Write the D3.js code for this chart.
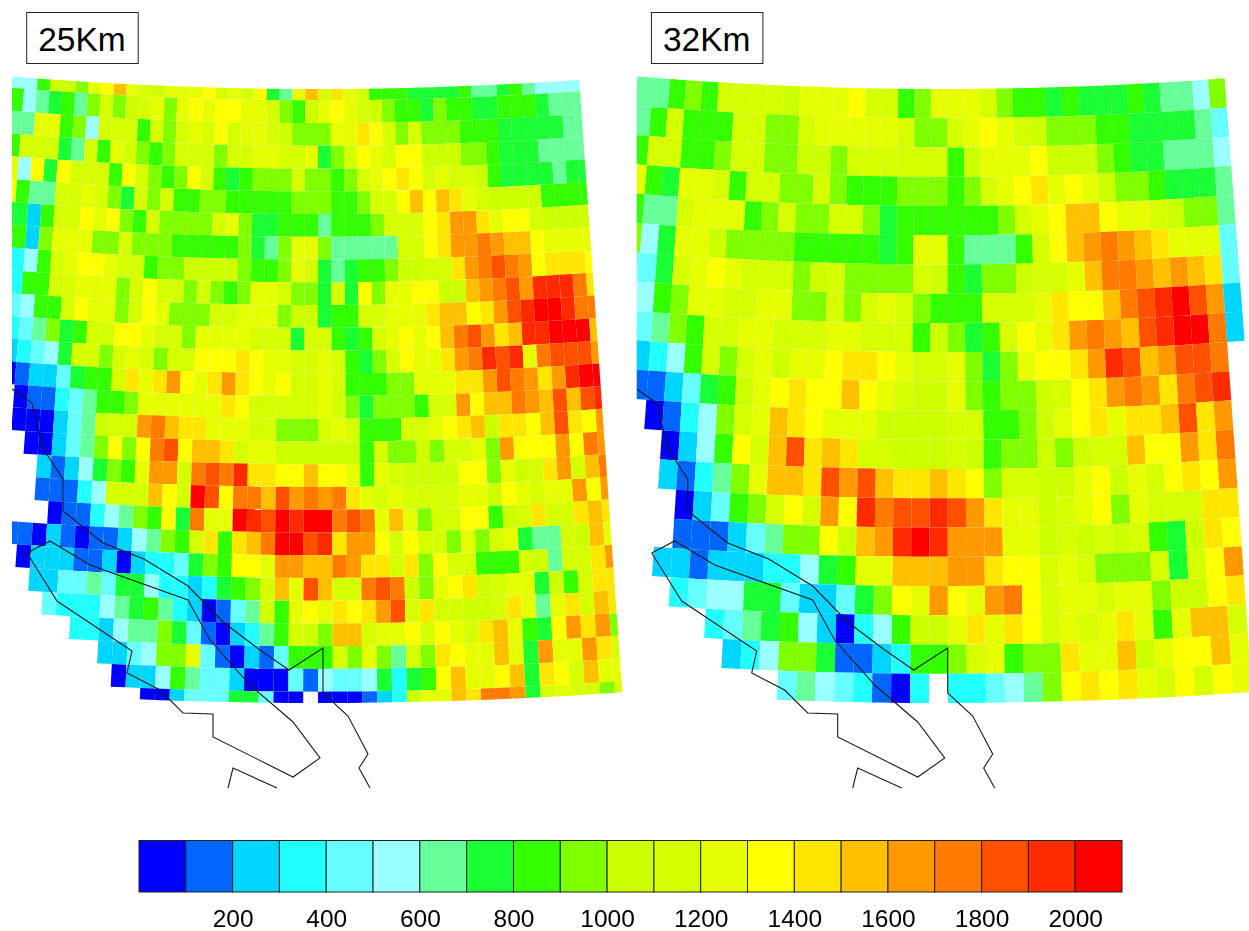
<!DOCTYPE html>
<html>
<head>
    <meta charset="utf-8">
    <script src="https://cdnjs.cloudflare.com/ajax/libs/d3/7.8.5/d3.min.js"></script>
    <title>25Km 32Km</title>
    <style>
    html, body { margin: 0; padding: 0; background: #fff; }
    svg { display: block; filter: blur(0.45px); }
    text { font-family: "Liberation Sans", Arial, sans-serif; fill: #000; }
    </style>
</head>
<body>
<div id="container"></div>
<script>
// Each char is one cell, base 36 bin number (bin n covers n*100 .. n*100+100), "." is no data
var rows25 = [
    "558aa9cdfcbacccdbcbd76cfbecb88877778667865555",
    "8567869b9abc9cdcddccb98acdcba9887988778887666",
    "66cc895bbb8b9bcbdbccba999ccedb9b9998887777766",
    "8bbb76b8cb989bbb9bbccbbc79bdcbddaaa9987776666",
    "c5d7dbbb8db989db878999b9989bcdedbcbba87777677",
    "d866bbcb97b9b889988888999889bbdfdfecbaaaa8888",
    "7728bbdcd98b9999bc97788868889bbbdeggecddbaaaa",
    "8829ccc99b999888889769cc966666bbdegghgffdcccc",
    "3358bcddcbb899aaaa9889cb767889aabbeghihgdeeed",
    "3388bbccc9bdbb9b989ccb997b7d9ccddaafghigjjjhe",
    "34588bdcc9bdc999bbccc9aa788bbccceffdegijkkjhh",
    "3346978bbddcbb9ccccbbb7bb878bcdcdfhigefjjkkkf",
    "223457bb9bcb9bbdddedccbbcb879bdcceghjijchiiig",
    "001224788becegdcegedcdbbcb88899ccceegihgegjkk",
    "..011346889ccccccedbbbbbcb979998bbgdffhgfifij",
    "..000246abbghfeecccbb999bcb888bbcdefaeedfiedg",
    "...002469d9dhidffebccaaaaaa8b99a9bbc9gdddgdhg",
    "....2125798cggbhihjeeddfddc8cbaaaadd9cabegbfh",
    "....11135bbbfdbkidhhfighghecbcbbbbccadcbccgdg",
    ".....01135698d7hcckjikjkkhihcfc9bbdd8abebbefe",
    "..1102101125698be8efhkkijeggdbdbb9c9bc766bafc",
    "...022211202334798ddcggffhgeebe9dbb888ba6bbeg",
    "....2244647753323789bfcifbbhiha9cdeabcc7a8bee",
    ".....433356786320146b8cdcedegibebbaabec6cebfe",
    ".......332566974102368ba9ffbccdbdcbefc87dgeg9",
    ".........224599c410214888b9c96b9edccfc7gccgeb",
    "..........0225864420004154457378dfccdf7edbfcc",
    "............00244477400.000123accfehhg7bcbb9b"
];

var rows32 = [
    "66898bbbbacccdbb89cccb98878777876659",
    "68b888bb99bcccccb99bcdcba99988777764",
    "8bb889bb99aa9bbbbbb8acccdaaa98776665",
    "c87ccb8bb99b988899989bcdecdca9987776",
    "866bccc89b99bb978888889bcdffdccba996",
    "957cca99998888878cc86668bdfghgfeccc4",
    "447bcdcbbb9ab9999ba8799abbcfhhgfgfe4",
    "5589ccbbcc99b9bcb9888bbbceddfhijkig2",
    "44698bbccbbbccbbb8a978bdceghgfijkkh2",
    "22358b9bcaccdeedcbbc979cddegjifgiih.",
    "1112478acdeddfdcbaac9899abdeghgehij.",
    "..01359bcfedcccaaaabb889acdeceefieg.",
    "...0258dbfiefebbaaaba899a9abbfddgeh.",
    "...21369cffeigifeefed9bbaacdacbdedg.",
    "....02489bdbgdjhiijigeccabcd9cbbbee.",
    "....11124699dafgjkjgggccababab87aed.",
    "...22122233578ccfffggeddbcb999b7bdg.",
    "....345577422479dcgdcghdbccbcc9aade.",
    "......34678520358aacecedbcbcec8cffb.",
    ".......2359971123889bc899eccfacddfc.",
    "..........46543103.334569dedecbdbdc."
];

// Colour bar
var binEdges = [100, 200, 300, 400, 500, 600, 700, 800, 900, 1000, 1100, 1200, 1300, 1400, 1500, 1600, 1700, 1800, 1900, 2000];
var binColors = ["#0000ff", "#0066ff", "#00d5ff", "#22ffff", "#66ffff", "#99ffff", "#66ff99", "#19ff33", "#33ff00", "#80ff00", "#ccff00",
    "#d5ff00", "#e6ff00", "#ffff00", "#ffe600", "#ffc000", "#ff9900", "#ff7a00", "#ff5000", "#ff2a00", "#ff0000"];
var tickValues = [200, 400, 600, 800, 1000, 1200, 1400, 1600, 1800, 2000];

// Outlines in map units, the same for both panels
var outlines = [
    [[0, 312], [20, 326], [30, 366], [32, 373], [51, 402], [51, 434], [91, 466], [132, 482], [176, 509], [211, 545], [248, 573], [277, 593],
     [311, 571], [311, 616], [336, 639], [356, 677], [347, 691], [358, 711]],
    [[15, 476], [38, 464], [78, 488], [176, 523], [198, 563], [238, 608], [281, 645], [308, 681], [281, 700], [201, 660], [201, 637],
     [171, 636], [148, 613], [115, 596], [120, 574], [45, 524], [15, 476]],
    [[216, 711], [221, 691], [265, 711]]
];

var w = 1249;
var h = 931;
var apexRadius = 3727;   // rows are arcs of a circle with this radius at the top edge
var topY = 89;
var gridHeight = 614;

var color = d3.scaleThreshold().domain(binEdges).range(binColors);

var svg = d3.select("#container").append("svg")
    .attr("width", w)
    .attr("height", h);

var defs = svg.append("defs");

function drawPanel(id, rows, label, left, centerX, cellW, centerCol, lastCol, halfRows) {
    var clip = defs.append("clipPath").attr("id", id);
    clip.append("rect").attr("x", left).attr("y", 0).attr("width", w - left).attr("height", h);

    var nRows = halfRows ? rows.length - 1 : rows.length;
    var radius = d3.scaleLinear().domain([0, nRows]).range([apexRadius, apexRadius + gridHeight]);
    var angle = d3.scaleLinear().domain([centerCol, centerCol + 1]).range([0, cellW / apexRadius]);

    function project(u, v) {
        var r = radius(v);
        return [centerX + r * Math.sin(angle(u)), topY - apexRadius + r * Math.cos(angle(u))];
    }

    var cells = [];
    rows.forEach(function(row, j) {
        row.split("").forEach(function(c, i) {
            if (c == ".") return;
            cells.push({ col: i, row: j, value: parseInt(c, 36) * 100 + 50 });
        });
    });

    var g = svg.append("g").attr("clip-path", "url(#" + id + ")");

    g.selectAll("path.cell")
        .data(cells)
        .enter()
        .append("path")
        .attr("class", "cell")
        .attr("d", function(d) {
            var v0 = halfRows ? Math.max(0, d.row - 0.5) : d.row;
            var v1 = halfRows ? Math.min(nRows, d.row + 0.5) : d.row + 1;
            var u1 = Math.min(d.col + 1, lastCol);
            return "M" + [project(d.col, v0), project(u1, v0), project(u1, v1), project(d.col, v1)].join("L") + "Z";
        })
        .attr("fill", function(d) { return color(d.value); });

    var mapX = d3.scaleLinear().domain([0, 625]).range([left, left + 625]);
    var mapY = d3.scaleLinear().domain([0, 711]).range([77, 788]);
    var line = d3.line().x(function(d) { return mapX(d[0]); }).y(function(d) { return mapY(d[1]); });

    g.selectAll("path.outline")
        .data(outlines)
        .enter()
        .append("path")
        .attr("class", "outline")
        .attr("d", line)
        .attr("fill", "none")
        .attr("stroke", "#1a1a1a")
        .attr("stroke-width", 1.1);

    // Label box
    svg.append("rect")
        .attr("x", left + 14.7)
        .attr("y", 12.5)
        .attr("width", 111.5)
        .attr("height", 51)
        .attr("fill", "#fff")
        .attr("stroke", "#222")
        .attr("stroke-width", 1);
    svg.append("text")
        .attr("x", left + 70)
        .attr("y", 50.5)
        .attr("text-anchor", "middle")
        .attr("font-size", 33.5)
        .text(label);
}

drawPanel("clip25", rows25, "25Km", 12, 318, 12.75, 24, 44.5, true);
drawPanel("clip32", rows32, "32Km", 636.7, 942.7, 16.33, 18.72, 36, false);

// Colour bar along the bottom
var barX = d3.scaleLinear().domain([0, 2100]).range([139, 1122]);
var barTop = 840.5;
var barH = 51.5;

svg.selectAll("rect.bin")
    .data(binColors)
    .enter()
    .append("rect")
    .attr("class", "bin")
    .attr("x", function(d, i) { return barX(i * 100); })
    .attr("y", barTop)
    .attr("width", function(d, i) { return barX(100) - barX(0); })
    .attr("height", barH)
    .attr("fill", function(d) { return d; })
    .attr("stroke", "#222")
    .attr("stroke-width", 1);

var axis = d3.axisBottom(barX).tickValues(tickValues).tickSize(0).tickPadding(0).tickFormat(d3.format("d"));
var axisG = svg.append("g")
    .attr("transform", "translate(0," + (barTop + barH) + ")")
    .call(axis);
axisG.select(".domain").remove();
axisG.selectAll("text")
    .attr("dy", 0)
    .attr("y", 34.5)
    .attr("font-size", 24.5)
    .style("font-family", '"Liberation Sans", Arial, sans-serif');
</script>
</body>
</html>
